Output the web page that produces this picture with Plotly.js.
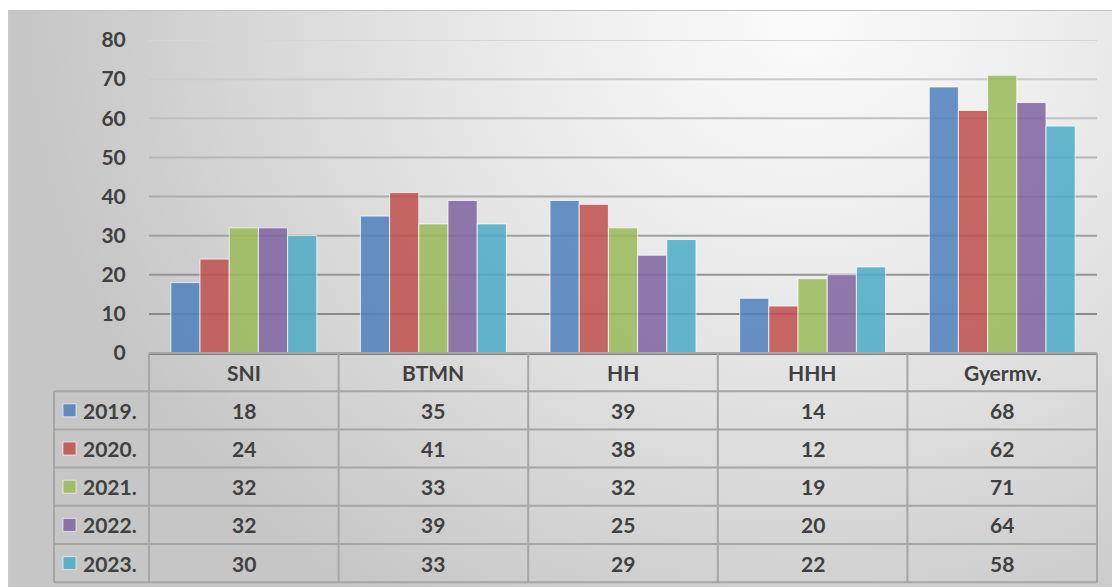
<!DOCTYPE html>
<html><head><meta charset="utf-8">
<script src="https://cdn.plot.ly/plotly-3.0.1.min.js"></script>
<style>
html,body{margin:0;padding:0;background:#fff;}
#wrap{position:relative;width:1112px;height:587px;overflow:hidden;background:#fff;}
#bg{position:absolute;left:8px;top:10px;width:1104px;height:577px;border-top:1px solid #c2c2c2;border-left:1px solid #c8c8c8;box-sizing:border-box;
background:radial-gradient(ellipse 70% 120% at 72% 2%, #fbfbfb 0%, #ececec 35%, #d8d8d8 70%, #c6c6c6 100%);}
#chart{position:absolute;left:0;top:0;width:1112px;height:587px;}
</style></head>
<body>
<div id="wrap"><div id="bg"></div><div id="chart"></div></div>
<script>
const categories = ['SNI','BTMN','HH','HHH','Gyermv.'];
const seriesNames = ['2019.','2020.','2021.','2022.','2023.'];
const v2019 = [18,35,39,14,68];
const v2020 = [24,41,38,12,62];
const v2021 = [32,33,32,19,71];
const v2022 = [32,39,25,20,64];
const v2023 = [30,33,29,22,58];
const yTicks = [0,10,20,30,40,50,60,70,80];

const seriesValues = [v2019,v2020,v2021,v2022,v2023];
const colors = ['#4f81bd','#c0504d','#9bbb59','#8064a2','#4bacc6'];

// plot-area geometry (pixels)
const L = 149, W = 948, T = 40, H = 313;
const px2x = p => (p - L) / W;
const pxH = p => p / H;
const xCat = c => (c + 0.5) / categories.length;
const rowH = pxH(38.2);

const FONT = {family:'Lato, "Open Sans", sans-serif', size:21, color:'#404040', weight:700};

const traces = seriesNames.map((n,i)=>({
  type:'bar', name:n, x:categories, y:seriesValues[i],
  marker:{color:colors[i], opacity:0.85, line:{color:'rgba(255,255,255,0.8)', width:1}},
  hoverinfo:'x+y+name'
}));

const shapes = [];
const annotations = [];
// gridlines
yTicks.forEach(v=>{
  if(v===0) return;
  const t = (v-10)/70;
  const g = Math.round(0x8a + t*(0xd6-0x8a));
  const c = `rgb(${g},${g},${g})`;
  shapes.push({type:'line', xref:'paper', yref:'y', x0:0, x1:1, y0:v, y1:v, line:{color:c, width:2}, layer:'below'});
});
const tableLine = {color:'#a6a6a6', width:2};
const legLeft = px2x(54);
// horizontal table lines
shapes.push({type:'line', xref:'paper', yref:'paper', x0:0, x1:1, y0:0, y1:0, line:tableLine});
for(let r=1;r<=seriesNames.length+1;r++){
  shapes.push({type:'line', xref:'paper', yref:'paper', x0:legLeft, x1:1, y0:-r*rowH, y1:-r*rowH, line:tableLine});
}
// vertical table lines
for(let c=0;c<=categories.length;c++){
  const xp = c/categories.length;
  shapes.push({type:'line', xref:'paper', yref:'paper', x0:xp, x1:xp, y0:0, y1:-(seriesNames.length+1)*rowH, line:tableLine});
}
shapes.push({type:'line', xref:'paper', yref:'paper', x0:legLeft, x1:legLeft, y0:-rowH, y1:-(seriesNames.length+1)*rowH, line:tableLine});

// header
categories.forEach((c,i)=>{
  annotations.push({xref:'paper', yref:'paper', x:xCat(i), y:-rowH/2, text:c, showarrow:false, xanchor:'center', yanchor:'middle', font:FONT});
});
// rows
seriesNames.forEach((n,r)=>{
  const yc = -(r+1.5)*rowH;
  shapes.push({type:'rect', xref:'paper', yref:'paper', x0:px2x(63), x1:px2x(76), y0:yc-pxH(6.5), y1:yc+pxH(6.5),
    fillcolor:colors[r], opacity:0.85, line:{color:'rgba(255,255,255,0.7)', width:1}});
  annotations.push({xref:'paper', yref:'paper', x:px2x(81), y:yc, text:n, showarrow:false, xanchor:'left', yanchor:'middle', font:FONT});
  seriesValues[r].forEach((v,i)=>{
    annotations.push({xref:'paper', yref:'paper', x:xCat(i), y:yc, text:String(v), showarrow:false, xanchor:'center', yanchor:'middle', font:FONT});
  });
});

const layout = {
  width:1112, height:587,
  margin:{l:L, r:1112-L-W, t:T, b:587-T-H},
  paper_bgcolor:'rgba(0,0,0,0)', plot_bgcolor:'rgba(0,0,0,0)',
  barmode:'group', bargap:0.23, bargroupgap:0,
  showlegend:false,
  xaxis:{type:'category', range:[-0.5,4.5], showticklabels:false, showgrid:false, zeroline:false,
    showline:true, linecolor:'#7f7f7f', linewidth:2, ticks:'', fixedrange:true},
  yaxis:{range:[0,80], tickvals:yTicks, showgrid:false, zeroline:false, showline:false,
    ticks:'outside', ticklen:18, tickcolor:'rgba(0,0,0,0)', tickfont:FONT, fixedrange:true},
  shapes:shapes, annotations:annotations,
  font:FONT
};
Plotly.newPlot('chart', traces, layout, {displayModeBar:false, staticPlot:true});
</script>
</body></html>
